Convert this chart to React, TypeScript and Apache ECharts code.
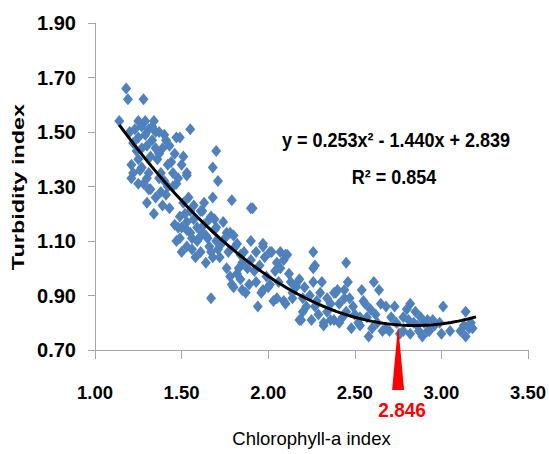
import React, { useEffect, useRef } from "react";
import * as echarts from "echarts";

// Scatter data (Chlorophyll-a index, Turbidity index)
const chlorophyll = [
  1.18, 1.19, 1.28, 1.14, 1.25, 1.29, 1.34, 1.23, 1.27, 1.31, 1.29, 1.35, 1.40, 1.41, 1.47, 1.49, 1.55, 1.25, 1.22, 1.35,
  1.37, 1.51, 1.44, 1.21, 1.25, 1.27, 1.22, 1.31, 1.42, 1.53, 1.38, 1.70, 1.68, 1.71, 1.68, 1.79, 1.90, 1.21, 1.25, 1.30,
  1.31, 1.30, 1.34, 1.37, 1.41, 1.43, 1.47, 1.53, 1.54, 1.28, 1.32, 1.45, 1.40, 1.36, 1.26, 1.33, 1.30, 1.39, 1.43, 1.27,
  1.24, 1.32, 1.45, 1.48, 1.50, 1.20, 1.33, 1.37, 1.46, 1.42, 1.38, 1.35, 1.39,
  1.49, 1.48, 1.49, 1.53, 1.55, 1.61, 1.63, 1.59, 1.61, 1.65, 1.67, 1.70, 1.70, 1.76, 1.68, 1.77, 1.82, 1.84, 1.90, 1.47,
  1.55, 1.50, 1.46, 1.53, 1.56, 1.58, 1.53, 1.50, 1.62, 1.69, 1.66, 1.60, 1.64, 1.66, 1.64, 1.69, 1.71, 1.75, 1.78, 1.81,
  1.57, 1.52, 1.59, 1.62, 1.56, 1.67, 1.73, 1.57, 1.51, 1.63, 1.74, 1.80, 1.72,
  1.82, 1.79, 1.85, 1.84, 1.90, 1.87, 1.92, 1.93, 1.97, 1.98, 1.96, 1.94, 2.02, 2.05, 2.04, 2.07, 2.00, 2.05, 2.10, 2.07,
  2.11, 2.14, 1.67, 1.85, 1.80, 1.97, 1.91, 1.93, 2.01, 2.10, 2.09, 2.13, 2.16, 2.01, 1.97, 2.03, 2.09, 1.88, 1.95, 1.99,
  2.12, 1.86, 1.76, 1.78, 1.89, 2.06, 2.18, 1.83,
  2.26, 2.27, 2.26, 2.31, 2.26, 2.16, 2.14, 2.20, 2.18, 2.25, 2.27, 2.32, 2.34, 2.38, 2.40, 2.41, 2.43, 2.38, 2.45, 2.46,
  2.44, 2.49, 2.54, 2.61, 2.56, 2.57, 2.58, 2.60, 2.64, 2.65, 2.63, 2.68, 2.52, 2.53, 2.36, 2.28, 2.34, 2.39, 2.47, 2.55,
  2.19, 2.32, 2.36, 2.41, 2.53, 2.66, 2.22, 2.30, 2.24, 2.20, 2.29, 2.45, 2.50, 2.48, 2.59, 2.62, 2.44, 2.21,
  2.82, 2.80, 2.85, 2.73, 2.71, 2.68, 2.78, 2.81, 2.70, 2.76, 2.82, 2.87, 2.89, 2.92, 2.86, 2.96, 2.99, 3.01, 3.05, 3.14,
  3.13, 3.16, 3.14, 3.18, 3.11, 2.90, 2.92, 2.78, 2.93, 2.95, 2.74, 2.84, 3.00, 3.17, 2.88,
];
const turbidity = [
  1.66, 1.62, 1.62, 1.54, 1.54, 1.54, 1.54, 1.51, 1.52, 1.51, 1.49, 1.50, 1.49, 1.47, 1.48, 1.48, 1.51, 1.48, 1.46, 1.44,
  1.42, 1.41, 1.39, 1.38, 1.40, 1.37, 1.35, 1.35, 1.38, 1.35, 1.35, 1.43, 1.37, 1.32, 1.26, 1.25, 1.22, 1.33, 1.31, 1.33,
  1.29, 1.24, 1.20, 1.33, 1.27, 1.22, 1.31, 1.34, 1.26, 1.31, 1.29, 1.30, 1.32, 1.40, 1.36, 1.47, 1.45, 1.44, 1.45, 1.44,
  1.43, 1.41, 1.35, 1.33, 1.38, 1.50, 1.52, 1.50, 1.42, 1.30, 1.28, 1.26, 1.23,
  1.19, 1.15, 1.11, 1.17, 1.13, 1.21, 1.16, 1.10, 1.06, 1.11, 1.19, 1.15, 1.10, 1.13, 1.04, 1.06, 1.09, 1.05, 1.10, 1.10,
  1.21, 1.15, 1.16, 1.14, 1.11, 1.04, 1.08, 1.06, 1.21, 1.18, 1.18, 1.11, 1.12, 1.08, 1.02, 1.14, 1.07, 1.11, 1.13, 1.08,
  1.18, 1.20, 1.15, 1.13, 1.07, 1.06, 1.09, 1.23, 1.24, 1.24, 1.17, 1.12, 1.04,
  0.98, 0.94, 1.02, 0.96, 1.03, 0.91, 0.99, 0.95, 1.08, 1.04, 0.91, 0.86, 1.06, 1.02, 0.99, 1.00, 0.93, 0.89, 0.87, 1.06,
  1.05, 0.89, 0.89, 0.92, 0.93, 1.09, 1.22, 1.06, 1.06, 1.05, 1.03, 0.95, 0.93, 0.94, 0.92, 0.88, 0.88, 1.00, 1.01, 0.97,
  0.98, 1.06, 1.00, 0.97, 0.94, 0.95, 0.96, 1.00,
  1.06, 1.01, 1.00, 0.95, 0.95, 0.94, 0.91, 0.89, 0.81, 0.81, 0.86, 0.80, 0.84, 0.91, 0.92, 0.87, 0.82, 0.81, 1.02, 0.95,
  0.89, 0.86, 0.92, 0.95, 0.87, 0.82, 0.75, 0.78, 0.92, 0.87, 0.80, 0.78, 0.80, 0.82, 0.87, 0.88, 0.89, 0.91, 0.89, 0.88,
  0.81, 0.79, 0.81, 0.80, 0.79, 0.77, 0.86, 0.91, 0.90, 0.84, 0.83, 0.84, 0.83, 0.78, 0.85, 0.83, 0.92, 0.93,
  0.87, 0.85, 0.84, 0.86, 0.82, 0.86, 0.82, 0.81, 0.77, 0.76, 0.76, 0.77, 0.75, 0.77, 0.79, 0.79, 0.80, 0.86, 0.77, 0.84,
  0.79, 0.78, 0.75, 0.78, 0.77, 0.80, 0.81, 0.77, 0.77, 0.81, 0.80, 0.80, 0.76, 0.80, 0.82,
];

// Polynomial trend line shown in the chart: y = 0.253x^2 - 1.440x + 2.839
const trendCoef = [0.253, -1.44, 2.839];
const trendXStart = 1.14;
const trendXEnd = 3.2;
const trendSteps = 100;
const equationText = "y = 0.253x\u00B2 - 1.440x + 2.839";
const r2Text = "R\u00B2 = 0.854";
const minimumLabel = "2.846";
const minimumArrowX = 2.75;

const xMin = 1.0, xMax = 3.5, xStep = 0.5;
const yMin = 0.7, yMax = 1.9, yStep = 0.2;

const FONT = '"Liberation Sans", Arial, sans-serif';

function trend(x: number) {
  return trendCoef[0] * x * x + trendCoef[1] * x + trendCoef[2];
}

export default function App() {
  const ref = useRef<HTMLDivElement>(null);
  useEffect(() => {
    if (!ref.current) return;
    const chart = echarts.init(ref.current, null, { renderer: "svg" });
    const points = chlorophyll.map((x, i) => [x, turbidity[i]]);
    const trendData: number[][] = [];
    for (let i = 0; i <= trendSteps; i++) {
      const x = trendXStart + ((trendXEnd - trendXStart) * i) / trendSteps;
      trendData.push([x, trend(x)]);
    }
    const axisColor = "#A6A6A6";
    chart.setOption({
      animation: false,
      backgroundColor: "#fff",
      grid: { left: 95, top: 23, right: 20, bottom: 104 },
      xAxis: {
        type: "value",
        min: xMin,
        max: xMax,
        interval: xStep,
        axisLine: { show: true, onZero: false, lineStyle: { color: axisColor, width: 1 } },
        axisTick: { show: true, length: 9, lineStyle: { color: axisColor } },
        splitLine: { show: false },
        axisLabel: {
          formatter: (v: number) => v.toFixed(2),
          fontSize: 18.5,
          fontWeight: "bold",
          color: "#000",
          fontFamily: FONT,
          margin: 33,
        },
        name: "Chlorophyll-a index",
        nameLocation: "middle",
        nameGap: 79,
        nameTextStyle: { fontSize: 18.5, color: "#000", fontFamily: FONT },
      },
      yAxis: {
        type: "value",
        min: yMin,
        max: yMax,
        interval: yStep,
        axisLine: { show: true, onZero: false, lineStyle: { color: axisColor, width: 1 } },
        axisTick: { show: true, length: 7, lineStyle: { color: axisColor } },
        splitLine: { show: false },
        axisLabel: {
          formatter: (v: number) => v.toFixed(2),
          fontSize: 20,
          fontWeight: "bold",
          color: "#000",
          fontFamily: FONT,
          margin: 19,
        },
      },
      series: [
        {
          type: "scatter",
          data: points,
          symbol: "diamond",
          symbolSize: [10, 12],
          itemStyle: { color: "#4F81BD", opacity: 1 },
          z: 2,
        },
        {
          type: "line",
          data: trendData,
          showSymbol: false,
          symbol: "none",
          lineStyle: { color: "#000", width: 3 },
          z: 3,
        },
      ],
    });

    const tip = chart.convertToPixel({ gridIndex: 0 }, [minimumArrowX, trend(minimumArrowX)]) as number[];
    const base = chart.convertToPixel({ gridIndex: 0 }, [minimumArrowX, yMin]) as number[];
    const arrowBottom = base[1] + 40;
    chart.setOption({
      graphic: [
        {
          type: "polygon",
          shape: {
            points: [
              [tip[0], tip[1]],
              [tip[0] - 6, arrowBottom],
              [tip[0] + 6, arrowBottom],
            ],
          },
          style: { fill: "#FF0000" },
          z: 10,
        },
        {
          type: "text",
          x: tip[0] + 4,
          y: arrowBottom + 20,
          scaleY: 1.08,
          style: {
            text: minimumLabel,
            fill: "#FF0000",
            font: `bold 19px ${FONT}`,
            align: "center",
            verticalAlign: "middle",
          },
          z: 10,
        },
        {
          type: "text",
          x: 396,
          y: 140,
          scaleY: 1.1,
          style: {
            text: equationText,
            fill: "#000",
            font: `bold 18px ${FONT}`,
            align: "center",
            verticalAlign: "middle",
          },
          z: 10,
        },
        {
          type: "text",
          x: 394,
          y: 177,
          scaleY: 1.1,
          style: {
            text: r2Text,
            fill: "#000",
            font: `bold 18px ${FONT}`,
            align: "center",
            verticalAlign: "middle",
          },
          z: 10,
        },
        {
          type: "text",
          x: 18,
          y: 187,
          rotation: Math.PI / 2,
          scaleX: 1.38,
          style: {
            text: "Turbidity index",
            fill: "#000",
            font: `bold 17px ${FONT}`,
            align: "center",
            verticalAlign: "middle",
          },
          z: 10,
        },
      ],
    });
    return () => chart.dispose();
  }, []);
  return (
    <div
      ref={ref}
      style={{ position: "absolute", left: 0, top: 0, width: 549, height: 454, background: "#fff" }}
    />
  );
}
